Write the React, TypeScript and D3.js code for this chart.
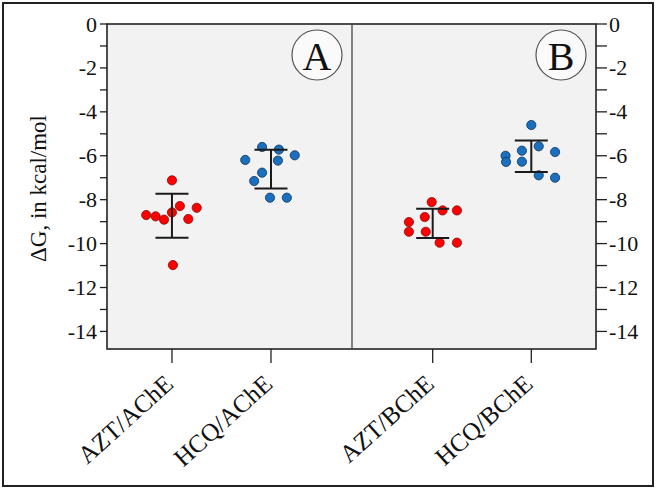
import React from "react";
import * as d3 from "d3";

const panels = ["A", "B"];
const categories = ["AZT/AChE", "HCQ/AChE", "AZT/BChE", "HCQ/BChE"];
const categoryPanel = ["A", "A", "B", "B"];
const categoryDrug = ["AZT", "HCQ", "AZT", "HCQ"];

const aztAChE = [-7.12, -8.7, -8.76, -8.91, -8.58, -8.29, -8.37, -8.88, -10.98];
const aztAChEJitter = [0, -0.26, -0.165, -0.08, 0, 0.08, 0.25, 0.165, 0.01];
const hcqAChE = [-5.6, -5.72, -5.98, -6.19, -6.22, -6.77, -7.15, -7.91, -7.91];
const hcqAChEJitter = [-0.09, 0.08, 0.24, -0.26, 0.07, -0.09, -0.17, -0.01, 0.16];
const aztBChE = [-8.11, -8.49, -8.49, -8.79, -9.02, -9.46, -9.46, -9.96, -9.96];
const aztBChEJitter = [-0.01, 0.1, 0.245, -0.08, -0.24, -0.24, -0.07, 0.07, 0.245];
const hcqBChE = [-4.6, -5.57, -5.83, -5.77, -6.0, -6.28, -6.27, -6.89, -7.0];
const hcqBChEJitter = [0, 0.075, 0.24, -0.095, -0.26, -0.255, -0.095, 0.075, 0.24];

const seriesValues = [aztAChE, hcqAChE, aztBChE, hcqBChE];
const seriesJitter = [aztAChEJitter, hcqAChEJitter, aztBChEJitter, hcqBChEJitter];

const yMajorTicks = [0, -2, -4, -6, -8, -10, -12, -14];
const yMinorTicks = [-1, -3, -5, -7, -9, -11, -13];
const yDomain = [-14.8, 0];
const yLabel = "ΔG, in kcal/mol";

const W = 657;
const H = 491;
const plot = { left: 107, right: 596, top: 24, bottom: 349 };
const divider = 352;
const FONT = "'Liberation Serif', 'Times New Roman', serif";
const colors: Record<string, { fill: string; stroke: string }> = {
  AZT: { fill: "#ff0000", stroke: "#8a0a0a" },
  HCQ: { fill: "#1b6fbf", stroke: "#0e3558" },
};

export default function App() {
  const y = d3.scaleLinear().domain(yDomain).range([plot.bottom, plot.top]);
  const panelRange: Record<string, [number, number]> = {
    A: [plot.left, divider],
    B: [divider, plot.right],
  };
  const pointScales: Record<string, d3.ScalePoint<string>> = {};
  panels.forEach((p, i) => {
    const cats = categories.filter((_, j) => categoryPanel[j] === p);
    pointScales[p] = d3
      .scalePoint<string>()
      .domain(cats)
      .range(panelRange[p])
      .padding(0.737)
      .align(i === 0 ? 0.445 : 0.555);
  });
  const xOf = (ci: number) => pointScales[categoryPanel[ci]](categories[ci]) as number;
  const step = pointScales["A"].step();

  const stats = seriesValues.map((vals) => ({
    mean: d3.mean(vals) as number,
    sd: d3.deviation(vals) as number,
  }));

  const capHalf = 16.5;
  const r = 4.6;

  return (
    <svg
      width={W}
      height={H}
      style={{ position: "absolute", left: 0, top: 0, background: "#fff" }}
      fontFamily={FONT}
    >
      <rect x={3} y={3} width={650} height={483} fill="#fff" stroke="#222" strokeWidth={2} />
      <rect
        x={plot.left}
        y={plot.top}
        width={plot.right - plot.left}
        height={plot.bottom - plot.top}
        fill="#f2f2f2"
        stroke="#222"
        strokeWidth={1.6}
      />
      <line x1={divider} x2={divider} y1={plot.top} y2={plot.bottom} stroke="#444" strokeWidth={1.3} />

      {yMajorTicks.concat(yMinorTicks).map((t) => (
        <g key={"lt" + t}>
          <line x1={plot.left - 7} x2={plot.left} y1={y(t)} y2={y(t)} stroke="#222" strokeWidth={1.3} />
          <line x1={plot.right} x2={plot.right + 11} y1={y(t)} y2={y(t)} stroke="#222" strokeWidth={1.3} />
        </g>
      ))}
      {yMajorTicks.map((t) => (
        <g key={"ll" + t} fontSize={22} fill="#111">
          <text x={plot.left - 10} y={y(t)} textAnchor="end" dominantBaseline="central">
            {String(t)}
          </text>
          <text x={plot.right + 13} y={y(t)} textAnchor="start" dominantBaseline="central">
            {String(t)}
          </text>
        </g>
      ))}
      <text
        transform={`translate(38,${(plot.top + plot.bottom) / 2 + 2}) rotate(-90)`}
        textAnchor="middle"
        dominantBaseline="central"
        fontSize={23}
        fill="#111"
      >
        {yLabel}
      </text>

      {categories.map((c, ci) => {
        const x = xOf(ci);
        return (
          <g key={"x" + c}>
            <line x1={x} x2={x} y1={plot.bottom} y2={plot.bottom + 14} stroke="#222" strokeWidth={1.3} />
            <text
              transform={`translate(${x + 3},${plot.bottom + 37}) rotate(-42)`}
              textAnchor="end"
              fontSize={25}
              fill="#111"
            >
              {c}
            </text>
          </g>
        );
      })}

      {seriesValues.map((vals, ci) => {
        const cx0 = xOf(ci);
        const col = colors[categoryDrug[ci]];
        return (
          <g key={"s" + ci}>
            {vals.map((v, k) => (
              <circle
                key={k}
                cx={cx0 + seriesJitter[ci][k] * step}
                cy={y(v)}
                r={r}
                fill={col.fill}
                stroke={col.stroke}
                strokeWidth={0.8}
              />
            ))}
          </g>
        );
      })}

      {stats.map((s, ci) => {
        const x = xOf(ci);
        const hi = y(s.mean + s.sd);
        const lo = y(s.mean - s.sd);
        return (
          <g key={"e" + ci} stroke="#1a1a1a" strokeWidth={2}>
            <line x1={x} x2={x} y1={hi} y2={lo} />
            <line x1={x - capHalf} x2={x + capHalf} y1={hi} y2={hi} />
            <line x1={x - capHalf} x2={x + capHalf} y1={lo} y2={lo} />
          </g>
        );
      })}

      {panels.map((p, i) => {
        const cx = i === 0 ? divider - 35 : plot.right - 35;
        return (
          <g key={"p" + p}>
            <circle cx={cx} cy={55} r={25} fill="#fafafa" stroke="#555" strokeWidth={1.2} />
            <text x={cx} y={56} textAnchor="middle" dominantBaseline="central" fontSize={40} fill="#111">
              {p}
            </text>
          </g>
        );
      })}
    </svg>
  );
}
